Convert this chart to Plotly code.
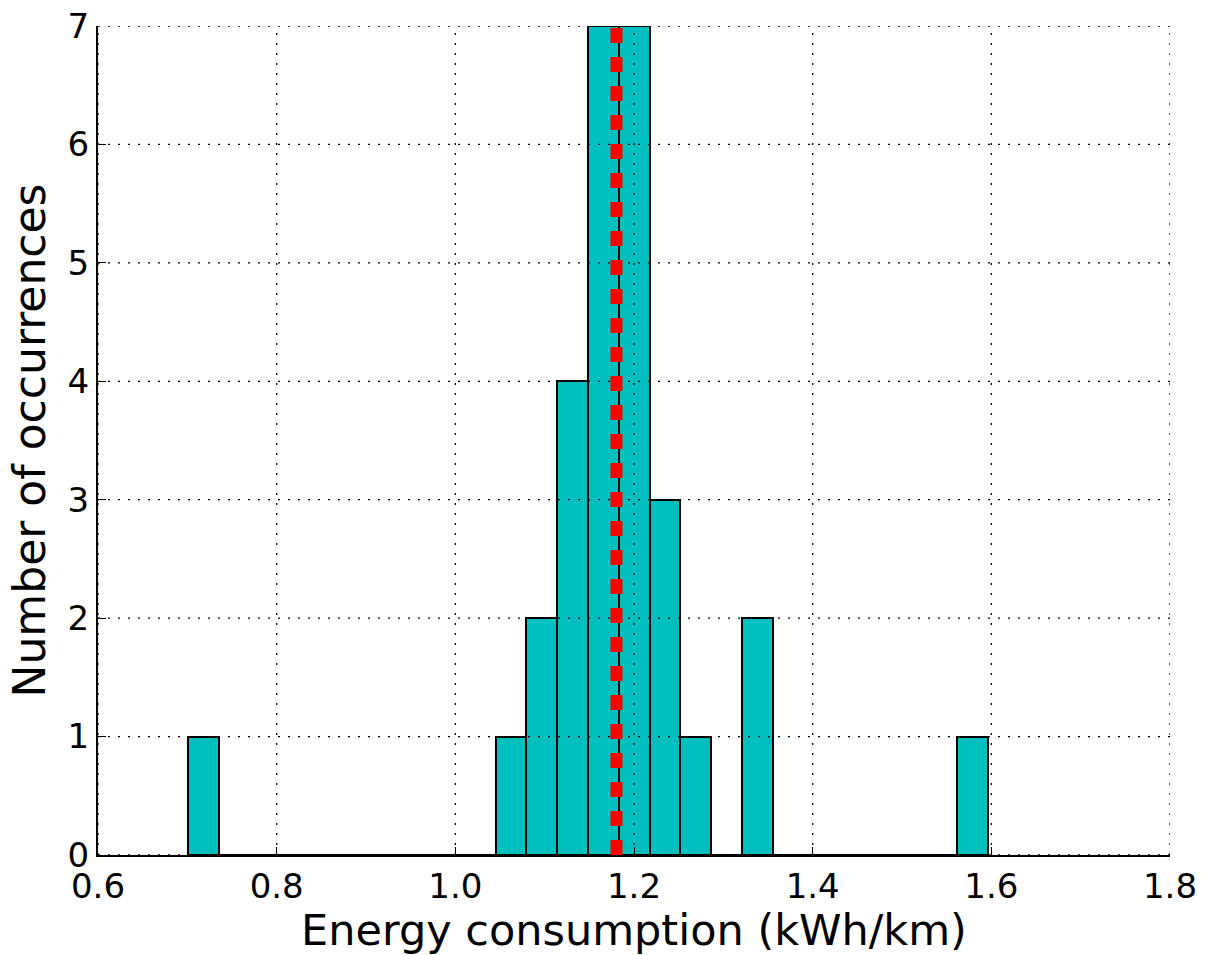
import numpy as np
import plotly.graph_objects as go

# ---- data ----
bin_start = 0.7007
bin_width = 0.03445
counts = [1, 0, 0, 0, 0, 0, 0, 0, 0, 0,
          1, 2, 4, 7, 7, 3, 1, 0, 2, 0,
          0, 0, 0, 0, 0, 1]
mean_value = 1.1804
x_ticks = [0.6, 0.8, 1.0, 1.2, 1.4, 1.6, 1.8]
y_ticks = [0, 1, 2, 3, 4, 5, 6, 7]
x_title = "Energy consumption (kWh/km)"
y_title = "Number of occurrences"

centers = bin_start + bin_width * (np.arange(len(counts)) + 0.5)

FONT = "DejaVu Sans"

fig = go.Figure()
fig.add_trace(go.Bar(
    x=centers, y=counts, width=bin_width,
    marker=dict(color="#00BFBF", line=dict(color="black", width=2)),
    showlegend=False, hoverinfo="x+y",
))

shapes = []
# grid drawn above bars (dotted)
for xv in x_ticks:
    shapes.append(dict(type="line", xref="x", yref="y", x0=xv, x1=xv,
                       y0=y_ticks[0], y1=y_ticks[-1], layer="above",
                       line=dict(color="black", width=1.3, dash="2px,8px")))
for yv in y_ticks:
    shapes.append(dict(type="line", xref="x", yref="y", x0=x_ticks[0], x1=x_ticks[-1],
                       y0=yv, y1=yv, layer="above",
                       line=dict(color="black", width=1.3, dash="2px,8px")))
# mean line
shapes.append(dict(type="line", xref="x", yref="y", x0=mean_value, x1=mean_value,
                   y0=y_ticks[0], y1=y_ticks[-1], layer="above",
                   line=dict(color="#ff0000", width=12, dash="15px,14px")))

fig.update_layout(
    width=1213, height=955,
    margin=dict(l=98, r=43, t=26, b=100),
    paper_bgcolor="white", plot_bgcolor="white",
    font=dict(family=FONT, color="black"),
    shapes=shapes,
    bargap=0,
    xaxis=dict(
        range=[x_ticks[0], x_ticks[-1]], tickvals=x_ticks, tickformat=".1f",
        showgrid=False, zeroline=False, showline=True, linecolor="black", linewidth=2,
        ticks="inside", ticklen=8, tickwidth=1, tickcolor="black",
        tickfont=dict(size=34, family=FONT, color="black"),
        title=dict(text=x_title, font=dict(size=43, family=FONT, color="black"), standoff=8),
        layer="above traces", automargin=False,
    ),
    yaxis=dict(
        range=[y_ticks[0], y_ticks[-1]], tickvals=y_ticks,
        showgrid=False, zeroline=False, showline=True, linecolor="black", linewidth=2,
        ticks="inside", ticklen=8, tickwidth=1, tickcolor="black",
        tickfont=dict(size=34, family=FONT, color="black"),
        title=dict(text=y_title, font=dict(size=44, family=FONT, color="black"), standoff=8),
        layer="above traces", automargin=False,
    ),
)

fig.write_html("out.html")
